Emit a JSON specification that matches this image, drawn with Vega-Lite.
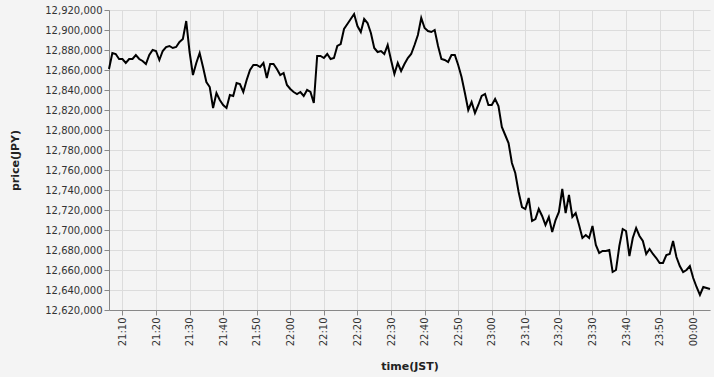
{
  "$schema": "https://vega.github.io/schema/vega-lite/v6.json",
  "width": 601,
  "height": 300,
  "padding": {"left": 9, "top": 5, "right": 5, "bottom": 5},
  "background": "#f4f4f4",
  "config": {
    "font": "DejaVu Sans",
    "view": {"stroke": null},
    "axis": {
      "gridColor": "#dcdcdc",
      "domainColor": "#888888",
      "tickColor": "#888888",
      "labelColor": "#333333",
      "titleColor": "#222222",
      "labelFontSize": 10,
      "titleFontSize": 11,
      "titleFontWeight": "bold"
    }
  },
  "data": {
    "values": [
      {"time": "2024-01-01T21:06:00Z", "price": 12861000},
      {"time": "2024-01-01T21:07:00Z", "price": 12877000},
      {"time": "2024-01-01T21:08:00Z", "price": 12876000},
      {"time": "2024-01-01T21:09:00Z", "price": 12871000},
      {"time": "2024-01-01T21:10:00Z", "price": 12871000},
      {"time": "2024-01-01T21:11:00Z", "price": 12867000},
      {"time": "2024-01-01T21:12:00Z", "price": 12871000},
      {"time": "2024-01-01T21:13:00Z", "price": 12871000},
      {"time": "2024-01-01T21:14:00Z", "price": 12875000},
      {"time": "2024-01-01T21:15:00Z", "price": 12871000},
      {"time": "2024-01-01T21:16:00Z", "price": 12869000},
      {"time": "2024-01-01T21:17:00Z", "price": 12866000},
      {"time": "2024-01-01T21:18:00Z", "price": 12875000},
      {"time": "2024-01-01T21:19:00Z", "price": 12880000},
      {"time": "2024-01-01T21:20:00Z", "price": 12879000},
      {"time": "2024-01-01T21:21:00Z", "price": 12870000},
      {"time": "2024-01-01T21:22:00Z", "price": 12879000},
      {"time": "2024-01-01T21:23:00Z", "price": 12883000},
      {"time": "2024-01-01T21:24:00Z", "price": 12884000},
      {"time": "2024-01-01T21:25:00Z", "price": 12882000},
      {"time": "2024-01-01T21:26:00Z", "price": 12883000},
      {"time": "2024-01-01T21:27:00Z", "price": 12888000},
      {"time": "2024-01-01T21:28:00Z", "price": 12891000},
      {"time": "2024-01-01T21:29:00Z", "price": 12909000},
      {"time": "2024-01-01T21:30:00Z", "price": 12878000},
      {"time": "2024-01-01T21:31:00Z", "price": 12855000},
      {"time": "2024-01-01T21:32:00Z", "price": 12867000},
      {"time": "2024-01-01T21:33:00Z", "price": 12877000},
      {"time": "2024-01-01T21:34:00Z", "price": 12863000},
      {"time": "2024-01-01T21:35:00Z", "price": 12848000},
      {"time": "2024-01-01T21:36:00Z", "price": 12843000},
      {"time": "2024-01-01T21:37:00Z", "price": 12822000},
      {"time": "2024-01-01T21:38:00Z", "price": 12837000},
      {"time": "2024-01-01T21:39:00Z", "price": 12830000},
      {"time": "2024-01-01T21:40:00Z", "price": 12825000},
      {"time": "2024-01-01T21:41:00Z", "price": 12822000},
      {"time": "2024-01-01T21:42:00Z", "price": 12835000},
      {"time": "2024-01-01T21:43:00Z", "price": 12834000},
      {"time": "2024-01-01T21:44:00Z", "price": 12847000},
      {"time": "2024-01-01T21:45:00Z", "price": 12846000},
      {"time": "2024-01-01T21:46:00Z", "price": 12838000},
      {"time": "2024-01-01T21:47:00Z", "price": 12850000},
      {"time": "2024-01-01T21:48:00Z", "price": 12860000},
      {"time": "2024-01-01T21:49:00Z", "price": 12865000},
      {"time": "2024-01-01T21:50:00Z", "price": 12865000},
      {"time": "2024-01-01T21:51:00Z", "price": 12863000},
      {"time": "2024-01-01T21:52:00Z", "price": 12867000},
      {"time": "2024-01-01T21:53:00Z", "price": 12852000},
      {"time": "2024-01-01T21:54:00Z", "price": 12866000},
      {"time": "2024-01-01T21:55:00Z", "price": 12866000},
      {"time": "2024-01-01T21:56:00Z", "price": 12861000},
      {"time": "2024-01-01T21:57:00Z", "price": 12855000},
      {"time": "2024-01-01T21:58:00Z", "price": 12857000},
      {"time": "2024-01-01T21:59:00Z", "price": 12845000},
      {"time": "2024-01-01T22:00:00Z", "price": 12841000},
      {"time": "2024-01-01T22:01:00Z", "price": 12838000},
      {"time": "2024-01-01T22:02:00Z", "price": 12836000},
      {"time": "2024-01-01T22:03:00Z", "price": 12838000},
      {"time": "2024-01-01T22:04:00Z", "price": 12834000},
      {"time": "2024-01-01T22:05:00Z", "price": 12840000},
      {"time": "2024-01-01T22:06:00Z", "price": 12838000},
      {"time": "2024-01-01T22:07:00Z", "price": 12827000},
      {"time": "2024-01-01T22:08:00Z", "price": 12874000},
      {"time": "2024-01-01T22:09:00Z", "price": 12874000},
      {"time": "2024-01-01T22:10:00Z", "price": 12872000},
      {"time": "2024-01-01T22:11:00Z", "price": 12876000},
      {"time": "2024-01-01T22:12:00Z", "price": 12871000},
      {"time": "2024-01-01T22:13:00Z", "price": 12872000},
      {"time": "2024-01-01T22:14:00Z", "price": 12884000},
      {"time": "2024-01-01T22:15:00Z", "price": 12886000},
      {"time": "2024-01-01T22:16:00Z", "price": 12901000},
      {"time": "2024-01-01T22:17:00Z", "price": 12906000},
      {"time": "2024-01-01T22:18:00Z", "price": 12911000},
      {"time": "2024-01-01T22:19:00Z", "price": 12916000},
      {"time": "2024-01-01T22:20:00Z", "price": 12904000},
      {"time": "2024-01-01T22:21:00Z", "price": 12898000},
      {"time": "2024-01-01T22:22:00Z", "price": 12911000},
      {"time": "2024-01-01T22:23:00Z", "price": 12907000},
      {"time": "2024-01-01T22:24:00Z", "price": 12897000},
      {"time": "2024-01-01T22:25:00Z", "price": 12882000},
      {"time": "2024-01-01T22:26:00Z", "price": 12878000},
      {"time": "2024-01-01T22:27:00Z", "price": 12879000},
      {"time": "2024-01-01T22:28:00Z", "price": 12876000},
      {"time": "2024-01-01T22:29:00Z", "price": 12885000},
      {"time": "2024-01-01T22:30:00Z", "price": 12870000},
      {"time": "2024-01-01T22:31:00Z", "price": 12856000},
      {"time": "2024-01-01T22:32:00Z", "price": 12867000},
      {"time": "2024-01-01T22:33:00Z", "price": 12859000},
      {"time": "2024-01-01T22:34:00Z", "price": 12866000},
      {"time": "2024-01-01T22:35:00Z", "price": 12872000},
      {"time": "2024-01-01T22:36:00Z", "price": 12876000},
      {"time": "2024-01-01T22:37:00Z", "price": 12885000},
      {"time": "2024-01-01T22:38:00Z", "price": 12895000},
      {"time": "2024-01-01T22:39:00Z", "price": 12912000},
      {"time": "2024-01-01T22:40:00Z", "price": 12902000},
      {"time": "2024-01-01T22:41:00Z", "price": 12899000},
      {"time": "2024-01-01T22:42:00Z", "price": 12898000},
      {"time": "2024-01-01T22:43:00Z", "price": 12900000},
      {"time": "2024-01-01T22:44:00Z", "price": 12884000},
      {"time": "2024-01-01T22:45:00Z", "price": 12871000},
      {"time": "2024-01-01T22:46:00Z", "price": 12870000},
      {"time": "2024-01-01T22:47:00Z", "price": 12868000},
      {"time": "2024-01-01T22:48:00Z", "price": 12875000},
      {"time": "2024-01-01T22:49:00Z", "price": 12875000},
      {"time": "2024-01-01T22:50:00Z", "price": 12865000},
      {"time": "2024-01-01T22:51:00Z", "price": 12853000},
      {"time": "2024-01-01T22:52:00Z", "price": 12837000},
      {"time": "2024-01-01T22:53:00Z", "price": 12820000},
      {"time": "2024-01-01T22:54:00Z", "price": 12828000},
      {"time": "2024-01-01T22:55:00Z", "price": 12817000},
      {"time": "2024-01-01T22:56:00Z", "price": 12825000},
      {"time": "2024-01-01T22:57:00Z", "price": 12834000},
      {"time": "2024-01-01T22:58:00Z", "price": 12836000},
      {"time": "2024-01-01T22:59:00Z", "price": 12825000},
      {"time": "2024-01-01T23:00:00Z", "price": 12825000},
      {"time": "2024-01-01T23:01:00Z", "price": 12831000},
      {"time": "2024-01-01T23:02:00Z", "price": 12824000},
      {"time": "2024-01-01T23:03:00Z", "price": 12803000},
      {"time": "2024-01-01T23:04:00Z", "price": 12795000},
      {"time": "2024-01-01T23:05:00Z", "price": 12787000},
      {"time": "2024-01-01T23:06:00Z", "price": 12767000},
      {"time": "2024-01-01T23:07:00Z", "price": 12757000},
      {"time": "2024-01-01T23:08:00Z", "price": 12738000},
      {"time": "2024-01-01T23:09:00Z", "price": 12723000},
      {"time": "2024-01-01T23:10:00Z", "price": 12721000},
      {"time": "2024-01-01T23:11:00Z", "price": 12732000},
      {"time": "2024-01-01T23:12:00Z", "price": 12709000},
      {"time": "2024-01-01T23:13:00Z", "price": 12711000},
      {"time": "2024-01-01T23:14:00Z", "price": 12721000},
      {"time": "2024-01-01T23:15:00Z", "price": 12714000},
      {"time": "2024-01-01T23:16:00Z", "price": 12705000},
      {"time": "2024-01-01T23:17:00Z", "price": 12713000},
      {"time": "2024-01-01T23:18:00Z", "price": 12698000},
      {"time": "2024-01-01T23:19:00Z", "price": 12710000},
      {"time": "2024-01-01T23:20:00Z", "price": 12718000},
      {"time": "2024-01-01T23:21:00Z", "price": 12741000},
      {"time": "2024-01-01T23:22:00Z", "price": 12717000},
      {"time": "2024-01-01T23:23:00Z", "price": 12735000},
      {"time": "2024-01-01T23:24:00Z", "price": 12713000},
      {"time": "2024-01-01T23:25:00Z", "price": 12717000},
      {"time": "2024-01-01T23:26:00Z", "price": 12705000},
      {"time": "2024-01-01T23:27:00Z", "price": 12692000},
      {"time": "2024-01-01T23:28:00Z", "price": 12695000},
      {"time": "2024-01-01T23:29:00Z", "price": 12692000},
      {"time": "2024-01-01T23:30:00Z", "price": 12704000},
      {"time": "2024-01-01T23:31:00Z", "price": 12685000},
      {"time": "2024-01-01T23:32:00Z", "price": 12677000},
      {"time": "2024-01-01T23:33:00Z", "price": 12679000},
      {"time": "2024-01-01T23:34:00Z", "price": 12679000},
      {"time": "2024-01-01T23:35:00Z", "price": 12680000},
      {"time": "2024-01-01T23:36:00Z", "price": 12658000},
      {"time": "2024-01-01T23:37:00Z", "price": 12660000},
      {"time": "2024-01-01T23:38:00Z", "price": 12684000},
      {"time": "2024-01-01T23:39:00Z", "price": 12701000},
      {"time": "2024-01-01T23:40:00Z", "price": 12699000},
      {"time": "2024-01-01T23:41:00Z", "price": 12674000},
      {"time": "2024-01-01T23:42:00Z", "price": 12692000},
      {"time": "2024-01-01T23:43:00Z", "price": 12702000},
      {"time": "2024-01-01T23:44:00Z", "price": 12694000},
      {"time": "2024-01-01T23:45:00Z", "price": 12689000},
      {"time": "2024-01-01T23:46:00Z", "price": 12676000},
      {"time": "2024-01-01T23:47:00Z", "price": 12681000},
      {"time": "2024-01-01T23:48:00Z", "price": 12676000},
      {"time": "2024-01-01T23:49:00Z", "price": 12672000},
      {"time": "2024-01-01T23:50:00Z", "price": 12667000},
      {"time": "2024-01-01T23:51:00Z", "price": 12667000},
      {"time": "2024-01-01T23:52:00Z", "price": 12675000},
      {"time": "2024-01-01T23:53:00Z", "price": 12676000},
      {"time": "2024-01-01T23:54:00Z", "price": 12689000},
      {"time": "2024-01-01T23:55:00Z", "price": 12673000},
      {"time": "2024-01-01T23:56:00Z", "price": 12664000},
      {"time": "2024-01-01T23:57:00Z", "price": 12658000},
      {"time": "2024-01-01T23:58:00Z", "price": 12660000},
      {"time": "2024-01-01T23:59:00Z", "price": 12664000},
      {"time": "2024-01-02T00:00:00Z", "price": 12652000},
      {"time": "2024-01-02T00:01:00Z", "price": 12643000},
      {"time": "2024-01-02T00:02:00Z", "price": 12635000},
      {"time": "2024-01-02T00:03:00Z", "price": 12643000},
      {"time": "2024-01-02T00:04:00Z", "price": 12642000},
      {"time": "2024-01-02T00:05:00Z", "price": 12641000}
    ]
  },
  "mark": {"type": "line", "color": "#000000", "strokeWidth": 2},
  "encoding": {
    "x": {
      "field": "time",
      "type": "temporal",
      "scale": {"type": "utc", "nice": false},
      "axis": {
        "title": "time(JST)",
        "format": "%H:%M",
        "labelAngle": -90,
        "values": [
          {"year": 2024, "month": 1, "date": 1, "hours": 21, "minutes": 10, "utc": true},
          {"year": 2024, "month": 1, "date": 1, "hours": 21, "minutes": 20, "utc": true},
          {"year": 2024, "month": 1, "date": 1, "hours": 21, "minutes": 30, "utc": true},
          {"year": 2024, "month": 1, "date": 1, "hours": 21, "minutes": 40, "utc": true},
          {"year": 2024, "month": 1, "date": 1, "hours": 21, "minutes": 50, "utc": true},
          {"year": 2024, "month": 1, "date": 1, "hours": 22, "minutes": 0, "utc": true},
          {"year": 2024, "month": 1, "date": 1, "hours": 22, "minutes": 10, "utc": true},
          {"year": 2024, "month": 1, "date": 1, "hours": 22, "minutes": 20, "utc": true},
          {"year": 2024, "month": 1, "date": 1, "hours": 22, "minutes": 30, "utc": true},
          {"year": 2024, "month": 1, "date": 1, "hours": 22, "minutes": 40, "utc": true},
          {"year": 2024, "month": 1, "date": 1, "hours": 22, "minutes": 50, "utc": true},
          {"year": 2024, "month": 1, "date": 1, "hours": 23, "minutes": 0, "utc": true},
          {"year": 2024, "month": 1, "date": 1, "hours": 23, "minutes": 10, "utc": true},
          {"year": 2024, "month": 1, "date": 1, "hours": 23, "minutes": 20, "utc": true},
          {"year": 2024, "month": 1, "date": 1, "hours": 23, "minutes": 30, "utc": true},
          {"year": 2024, "month": 1, "date": 1, "hours": 23, "minutes": 40, "utc": true},
          {"year": 2024, "month": 1, "date": 1, "hours": 23, "minutes": 50, "utc": true},
          {"year": 2024, "month": 1, "date": 2, "hours": 0, "minutes": 0, "utc": true}
        ],
        "titlePadding": 15
      }
    },
    "y": {
      "field": "price",
      "type": "quantitative",
      "scale": {"domain": [12620000, 12920000], "nice": false, "zero": false},
      "axis": {
        "title": "price(JPY)",
        "format": ",d",
        "tickCount": 15,
        "titlePadding": 24
      }
    }
  }
}
